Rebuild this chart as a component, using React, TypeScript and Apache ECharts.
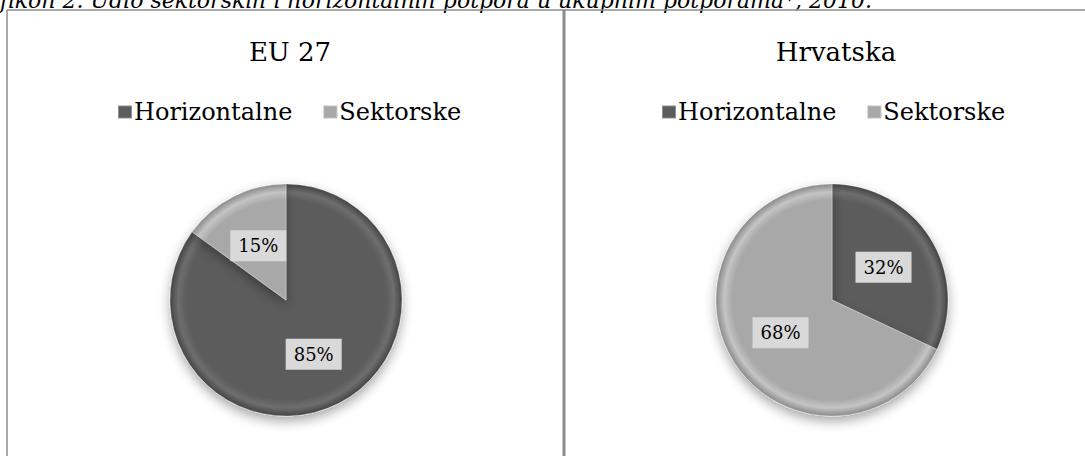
import React, { useEffect, useRef } from "react";
import * as echarts from "echarts";

const categories = ["Horizontalne", "Sektorske"];
const euValues = [85, 15];
const hrValues = [32, 68];
const panelTitles = ["EU 27", "Hrvatska"];
const caption = "Grafikon 2. Udio sektorskih i horizontalnih potpora u ukupnim potporama*, 2010.";

const DARK = ["#5c5c5c", "#6e6e6e", "#444444"];
const LIGHT = ["#a8a8a8", "#c4c4c4", "#8a8a8a"];
const FONT = "'DejaVu Serif', 'Liberation Serif', serif";

function bevel(cx: number, cy: number, r: number, c: string[]) {
  return {
    type: "radial",
    x: cx,
    y: cy,
    r,
    global: true,
    colorStops: [
      { offset: 0, color: c[0] },
      { offset: 0.86, color: c[0] },
      { offset: 0.93, color: c[1] },
      { offset: 1, color: c[2] },
    ],
  };
}

export default function App() {
  const ref = useRef<HTMLDivElement>(null);
  useEffect(() => {
    if (!ref.current) return;
    const chart = echarts.init(ref.current, null, { renderer: "svg" });
    const R = 116;
    const centers = [
      [286, 300],
      [832, 300],
    ];
    const mkData = (vals: number[], k: number) =>
      vals.map((v, i) => ({
        name: categories[i],
        value: v,
        itemStyle: { color: bevel(centers[k][0], centers[k][1], R, i === 0 ? DARK : LIGHT) },
      }));
    const label = {
      show: true,
      position: "inside",
      formatter: (p: any) => `${p.value}%`,
      color: "#000",
      fontFamily: FONT,
      fontSize: 18,
      backgroundColor: "#d9d9d9",
      padding: [7, 8, 6, 8],
    };
    const itemStyle = {
      borderColor: "rgba(255,255,255,0.3)",
      borderWidth: 1,
      shadowBlur: 12,
      shadowColor: "rgba(0,0,0,0.35)",
      shadowOffsetY: 5,
    };
    const legendBase = {
      orient: "horizontal",
      top: 95,
      icon: "rect",
      itemWidth: 14,
      itemHeight: 13,
      itemGap: 30,
      textStyle: { fontFamily: FONT, fontSize: 24, color: "#000", padding: [0, 0, 0, -3] },
      data: [
        { name: categories[0], itemStyle: { color: DARK[0] } },
        { name: categories[1], itemStyle: { color: LIGHT[0] } },
      ],
    };
    const titleStyle = { fontFamily: FONT, fontSize: 26, fontWeight: "normal", color: "#000" };
    chart.setOption({
      animation: false,
      backgroundColor: "#fff",
      title: [
        { text: panelTitles[0], left: 285, top: 34, textAlign: "center", textStyle: titleStyle },
        { text: panelTitles[1], left: 831, top: 34, textAlign: "center", textStyle: titleStyle },
      ],
      legend: [
        { ...legendBase, left: 112 },
        { ...legendBase, left: 656 },
      ],
      series: [0, 1].map((k) => ({
        type: "pie",
        center: centers[k],
        radius: R,
        startAngle: 90,
        clockwise: true,
        label,
        labelLine: { show: false },
        itemStyle,
        emphasis: { disabled: true },
        data: mkData(k === 0 ? euValues : hrValues, k),
      })),
      graphic: [
        {
          type: "text",
          x: 872,
          y: 11,
          style: {
            text: caption,
            fontFamily: FONT,
            fontStyle: "italic",
            fontSize: 22,
            fill: "#000",
            align: "right",
            verticalAlign: "bottom",
          },
        },
        {
          type: "line",
          shape: { x1: 7, y1: 10, x2: 1085, y2: 10 },
          style: { stroke: "#8c8c8c", lineWidth: 1.5 },
        },
        {
          type: "line",
          shape: { x1: 7, y1: 10, x2: 7, y2: 456 },
          style: { stroke: "#8c8c8c", lineWidth: 1.5 },
        },
        {
          type: "line",
          shape: { x1: 564, y1: 10, x2: 564, y2: 456 },
          style: { stroke: "#8c8c8c", lineWidth: 3 },
        },
      ],
    });
    return () => chart.dispose();
  }, []);
  return (
    <div
      ref={ref}
      style={{ position: "fixed", left: 0, top: 0, width: 1085, height: 456 }}
    />
  );
}
